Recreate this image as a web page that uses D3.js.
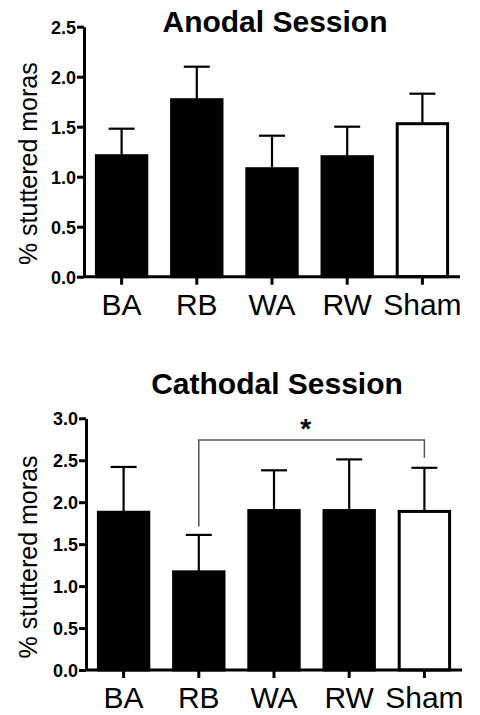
<!DOCTYPE html>
<html>
<head>
<meta charset="utf-8">
<script src="https://cdn.jsdelivr.net/npm/d3@7"></script>
<style>
body { margin: 0; background: #fff; }
svg { display: block; font-family: Arial, "Liberation Sans", sans-serif; }
.axis path, .axis line { stroke: #000; stroke-width: 3; }
.axis text { fill: #000; }
</style>
</head>
<body>
<script>
// Gruppen (x Achse)
var groups = ["BA", "RB", "WA", "RW", "Sham"];

// Anodal: Mittelwerte und Fehler (SEM)
var anodalMean = [1.21, 1.77, 1.08, 1.20, 1.53];
var anodalErr  = [0.27, 0.33, 0.33, 0.30, 0.30];
var anodalTicks = [0.0, 0.5, 1.0, 1.5, 2.0, 2.5];

// Cathodal: Mittelwerte und Fehler (SEM)
var cathodalMean = [1.88, 1.17, 1.90, 1.90, 1.89];
var cathodalErr  = [0.54, 0.44, 0.48, 0.61, 0.52];
var cathodalTicks = [0.0, 0.5, 1.0, 1.5, 2.0, 2.5, 3.0];

// Signifikanz-Klammer (Cathodal): von, bis, Hoehe, Beinenden
var sigPair = ["RB", "Sham"];
var sigLevels = [2.74, 1.71, 2.53]; // Linie, linkes Bein, rechtes Bein
var sigLabel = "*";

var svg = d3.select("body").append("svg")
  .attr("width", 480)
  .attr("height", 715);

function panel(o) {
  var y = d3.scaleLinear().domain([0, d3.max(o.ticks)]).range([o.y0, o.y1]);
  var x = d3.scaleBand().domain(groups).range([o.x0, o.x1]).paddingInner(0.33).paddingOuter(0.165);

  var g = svg.append("g");

  // Titel
  g.append("text")
    .attr("x", o.titleX).attr("y", o.titleY)
    .attr("text-anchor", "middle")
    .style("font-size", "30px").style("font-weight", "bold")
    .text(o.title);

  // Y Achsenbeschriftung
  g.append("text")
    .attr("transform", "translate(37," + (o.y0 - 113) + ") rotate(-90)")
    .attr("text-anchor", "middle")
    .style("font-size", "25px")
    .text("% stuttered moras");

  // Balken
  g.selectAll(".bar").data(groups).enter().append("rect")
    .attr("x", d => x(d))
    .attr("width", x.bandwidth())
    .attr("y", (d, i) => y(o.mean[i]))
    .attr("height", (d, i) => o.y0 - y(o.mean[i]))
    .attr("fill", d => d == "Sham" ? "#fff" : "#000")
    .attr("stroke", "#000").attr("stroke-width", 3);

  // Fehlerbalken
  var eb = g.selectAll(".err").data(groups).enter().append("g")
    .attr("stroke", "#000").attr("stroke-width", 2.2);
  eb.append("line")
    .attr("x1", d => x(d) + x.bandwidth() / 2).attr("x2", d => x(d) + x.bandwidth() / 2)
    .attr("y1", (d, i) => y(o.mean[i]))
    .attr("y2", (d, i) => y(o.mean[i] + o.err[i]));
  eb.append("line")
    .attr("x1", d => x(d) + x.bandwidth() / 2 - 13).attr("x2", d => x(d) + x.bandwidth() / 2 + 13)
    .attr("y1", (d, i) => y(o.mean[i] + o.err[i]))
    .attr("y2", (d, i) => y(o.mean[i] + o.err[i]));

  // Y Achse
  var ya = g.append("g").attr("class", "axis")
    .attr("transform", "translate(" + o.x0 + ",0)")
    .call(d3.axisLeft(y).tickValues(o.ticks).tickFormat(d3.format(".1f")).tickSize(7).tickSizeOuter(0).tickPadding(1));
  ya.attr("font-size", 18).attr("font-weight", "bold").attr("font-family", "Arial, 'Liberation Sans', sans-serif");
  ya.selectAll("text").attr("dy", "0.36em");

  // X Achse
  var xa = g.append("g").attr("class", "axis")
    .attr("transform", "translate(0," + o.y0 + ")")
    .call(d3.axisBottom(x).tickSize(8).tickSizeOuter(0));
  xa.select(".domain").attr("d", "M" + o.x0 + ",0H" + o.x1);
  xa.attr("font-size", 30).attr("font-family", "Arial, 'Liberation Sans', sans-serif");
  xa.selectAll("text").attr("y", 38).attr("dy", 0);

  return {x: x, y: y, g: g};
}

panel({title: "Anodal Session", titleX: 275, titleY: 32,
  mean: anodalMean, err: anodalErr, ticks: anodalTicks,
  x0: 84, x1: 460, y0: 276.7, y1: 26.7});

var p2 = panel({title: "Cathodal Session", titleX: 277, titleY: 394,
  mean: cathodalMean, err: cathodalErr, ticks: cathodalTicks,
  x0: 86, x1: 462, y0: 670, y1: 418.3});

// Signifikanz-Klammer
var bx1 = p2.x(sigPair[0]) + p2.x.bandwidth() / 2;
var bx2 = p2.x(sigPair[1]) + p2.x.bandwidth() / 2;
p2.g.append("path")
  .attr("d", "M" + bx1 + "," + p2.y(sigLevels[1]) + "V" + p2.y(sigLevels[0]) + "H" + bx2 + "V" + p2.y(sigLevels[2]))
  .attr("fill", "none").attr("stroke", "#555").attr("stroke-width", 1.5);
p2.g.append("text")
  .attr("x", (bx1 + bx2) / 2 - 6).attr("y", p2.y(sigLevels[0]) - 2)
  .attr("text-anchor", "middle")
  .style("font-size", "28px").style("font-weight", "bold")
  .text(sigLabel);
</script>
</body>
</html>
